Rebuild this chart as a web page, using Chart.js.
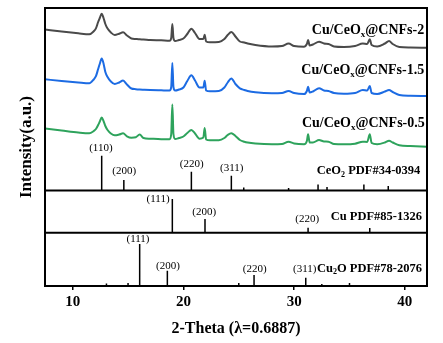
<!DOCTYPE html>
<html><head><meta charset="utf-8">
<script src="https://cdn.jsdelivr.net/npm/chart.js@4"></script>
<style>html,body{margin:0;padding:0;background:#fff}#wrap{width:443px;height:343px}</style>
</head><body><div id="wrap"><canvas id="c" width="443" height="343"></canvas></div>
<script>
// ---- data ----
const angles = [7.5, 9, 10.5, 11.5, 11.9, 12.1, 12.3, 12.45, 12.62, 12.8,
  12.95, 13.15, 13.45, 13.8, 14.2, 14.55, 14.9, 15.3, 15.7, 16.05,
  16.4, 17.0, 18.0, 18.75, 18.9, 19.0, 19.1, 19.25, 19.6, 20.0,
  20.35, 20.72, 21.05, 21.45, 21.8, 21.92, 22.05, 22.4, 23.2, 23.7,
  24.0, 24.33, 24.7, 25.1, 25.5, 25.8, 26.5, 28.0, 28.9, 29.5,
  30.0, 30.9, 31.15, 31.26, 31.4, 31.7, 32.25, 32.7, 33.1, 33.6,
  34.5, 35.5, 36.2, 36.6, 36.83, 37.0, 37.5, 38.2, 38.57, 38.9,
  39.5, 40.5, 42.0];
const cnfs2 = [256.5, 254.5, 252.7, 251.7, 254.7, 257.6, 264, 268, 272.3, 267.5,
  262, 257.4, 253.5, 251, 252.3, 253.7, 250.5, 247.5, 247, 246.7,
  246.5, 246, 245.7, 245.3, 248, 262, 248, 245, 246, 247.5,
  252, 257.3, 253, 247, 247, 251.3, 244.5, 243.7, 244, 247,
  251, 254, 249.5, 244.5, 243.5, 242.5, 241, 239.5, 240, 242.5,
  240, 239.3, 242, 246, 240.5, 241.5, 244.3, 242.5, 242, 239.5,
  239, 240, 242.5, 242, 246.7, 241, 239.5, 242.5, 245, 242,
  239, 238.5, 238.3];
const cnfs15 = [206.7, 205, 203.5, 202.7, 206.5, 209.8, 217, 222.3, 227.5, 221.8,
  214, 209, 204.5, 202, 203.5, 205.5, 201.5, 197.5, 196.8, 196.5,
  196.3, 196, 195.7, 195.5, 199, 223, 199, 195.5, 196.5, 198.5,
  205, 210.7, 205.5, 198.5, 198.5, 205.3, 195.5, 194.7, 195, 198.5,
  203.5, 207.5, 202, 197.7, 196, 195, 193.7, 192.7, 193, 195,
  193, 192, 195, 199.3, 193.5, 194.5, 197.7, 195.5, 195, 193,
  192.3, 193, 196, 195.5, 200, 193, 192, 194.5, 196, 194,
  191, 190.3, 190];
const cnfs05 = [157.5, 155.5, 153.5, 152.7, 155, 157, 161, 164.5, 168.5, 164.5,
  160, 156, 152.5, 150.7, 151.5, 152.7, 149.7, 148.3, 148.7, 151.5,
  148, 147.3, 146.8, 146.7, 152, 181.5, 152, 147, 148, 149.5,
  153, 156, 152.5, 147.3, 148.5, 158, 146.5, 145.7, 145.8, 148,
  151, 152.7, 150, 146, 144.3, 143.5, 142.5, 141.7, 142, 144.3,
  142.5, 141.7, 145, 151.7, 143.5, 143.5, 146, 144.5, 144.3, 142,
  141.7, 142.3, 144.3, 144, 151.7, 143, 141.7, 143.5, 145.3, 143.5,
  140.7, 140, 139.3];
const sampleNames = ['Cu/CeO_x@CNFs-2', 'Cu/CeO_x@CNFs-1.5', 'Cu/CeO_x@CNFs-0.5'];

// reference patterns (stick positions and heights), baselines of their panels
const ceo2Pos = [12.62, 14.62, 20.72, 24.33, 25.45, 29.5, 32.16, 32.97, 36.3, 38.5];
const ceo2Int = [34.8, 10.5, 18.8, 14.8, 3, 2.5, 6, 3.5, 6, 4.5];
const ceo2Hkl = ['(110)', '(200)', '(220)', '(311)'];
const cuPos = [19.0, 21.95, 31.26, 36.83];
const cuInt = [33.7, 13.7, 5, 4.7];
const cuHkl = ['(111)', '(200)', '(220)'];
const cu2oPos = [13.05, 16.05, 18.55, 26.38, 31.05, 32.5];
const cu2oInt = [2.5, 42, 15.3, 11, 8.3, 2];
const cu2oHkl = ['(111)', '(200)', '(220)', '(311)'];
const panelBase = [95.5, 53.3, 0];
const refNames = ['CeO_2 PDF#34-0394', 'Cu PDF#85-1326', 'Cu_2O PDF#78-2076'];

const xMajorTicks = [10, 20, 30, 40];
const xMinorTicks = [15, 25, 35];

// ---- chart ----
const SERIF = '"Liberation Serif", "Times New Roman", serif';
const colors = ['#4a4a4a', '#1c6be3', '#2ea35c'];
const seriesData = [cnfs2, cnfs15, cnfs05];

function sticks(pos, ints, base) {
  const out = [];
  pos.forEach((p, i) => { out.push({x: p, y: base}, {x: p, y: base + ints[i]}, {x: p, y: null}); });
  return out;
}
const datasets = [];
seriesData.forEach((arr, k) => datasets.push({
  label: sampleNames[k], data: angles.map((a, i) => ({x: a, y: arr[i]})),
  borderColor: colors[k], borderWidth: 2, pointRadius: 0, fill: false,
  cubicInterpolationMode: 'monotone'
}));
[[ceo2Pos, ceo2Int], [cuPos, cuInt], [cu2oPos, cu2oInt]].forEach(([p, v], k) => datasets.push({
  label: refNames[k], data: sticks(p, v, panelBase[k]), borderColor: '#000', borderWidth: 1.5,
  pointRadius: 0, fill: false, spanGaps: false, tension: 0
}));
[panelBase[0], panelBase[1]].forEach(b => datasets.push({
  label: 'divider', data: [{x: 7.5, y: b}, {x: 42, y: b}], borderColor: '#000', borderWidth: 2,
  pointRadius: 0, fill: false
}));

// annotation anchors (data coordinates)
const sampleLabelAnchors = [[41.75, 256], [41.75, 216], [41.8, 162.7]];
const refLabelAnchors = [[41.4, 115], [41.55, 69.3], [41.55, 17.7]];
const hklAnchors = [
  [[12.55, 137.7], [14.66, 115], [20.75, 121.7], [24.36, 117.7]],
  [[17.71, 87], [21.88, 74.3], [31.18, 66.7]],
  [[15.9, 46.7], [18.61, 20], [26.44, 16.7], [30.96, 16.7]]
];

function drawRich(ctx, str, xr, yc, size) {
  const parts = [];
  let i = 0, buf = '';
  while (i < str.length) {
    if (str[i] === '_') { if (buf) parts.push([buf, false]); buf = ''; parts.push([str[i + 1], true]); i += 2; }
    else { buf += str[i]; i++; }
  }
  if (buf) parts.push([buf, false]);
  const big = `bold ${size}px ${SERIF}`, small = `bold ${Math.round(size * 0.62)}px ${SERIF}`;
  let w = 0;
  parts.forEach(([t, s]) => { ctx.font = s ? small : big; w += ctx.measureText(t).width; });
  let x = xr - w;
  ctx.textAlign = 'left'; ctx.textBaseline = 'middle'; ctx.fillStyle = '#000';
  parts.forEach(([t, s]) => { ctx.font = s ? small : big; ctx.fillText(t, x, yc + (s ? size * 0.32 : 0)); x += ctx.measureText(t).width; });
}

const decor = {
  id: 'decor',
  afterDatasetsDraw(chart) {
    const {ctx, chartArea: a, scales: {x, y}} = chart;
    ctx.save();
    ctx.strokeStyle = '#000'; ctx.lineWidth = 2;
    ctx.strokeRect(a.left, a.top, a.right - a.left, a.bottom - a.top);
    ctx.lineWidth = 1.5;
    xMinorTicks.forEach(v => { const px = x.getPixelForValue(v); ctx.beginPath(); ctx.moveTo(px, a.bottom); ctx.lineTo(px, a.bottom - 3); ctx.stroke(); });
    sampleNames.forEach((n, k) => drawRich(ctx, n, x.getPixelForValue(sampleLabelAnchors[k][0]), y.getPixelForValue(sampleLabelAnchors[k][1]), 14));
    refNames.forEach((n, k) => drawRich(ctx, n, x.getPixelForValue(refLabelAnchors[k][0]), y.getPixelForValue(refLabelAnchors[k][1]), 12.5));
    ctx.font = `11px ${SERIF}`; ctx.textAlign = 'center'; ctx.textBaseline = 'middle'; ctx.fillStyle = '#000';
    [ceo2Hkl, cuHkl, cu2oHkl].forEach((list, k) => list.forEach((t, i) => {
      ctx.fillText(t, x.getPixelForValue(hklAnchors[k][i][0]), y.getPixelForValue(hklAnchors[k][i][1]));
    }));
    ctx.restore();
  }
};

new Chart(document.getElementById('c'), {
  type: 'line',
  data: {datasets},
  plugins: [decor],
  options: {
    responsive: false, animation: false, devicePixelRatio: 1,
    layout: {padding: {top: 8, right: 16, left: 0, bottom: 0}},
    plugins: {legend: {display: false}, tooltip: {enabled: false}},
    scales: {
      x: {
        type: 'linear', min: 7.5, max: 42,
        afterBuildTicks: s => { s.ticks = xMajorTicks.map(v => ({value: v})); },
        afterFit: s => { s.height = 57; },
        grid: {display: true, drawOnChartArea: false, drawTicks: true, tickLength: 4, color: '#000', lineWidth: 1.5},
        border: {display: false},
        ticks: {color: '#000', font: {family: SERIF, size: 15, weight: 'bold'}, padding: 3, maxRotation: 0, autoSkip: false},
        title: {display: true, text: '2-Theta (λ=0.6887)', color: '#000', font: {family: SERIF, size: 16, weight: 'bold'}, padding: {top: 0, bottom: 5}}
      },
      y: {
        type: 'linear', min: 0, max: 278,
        afterFit: s => { s.width = 45; },
        grid: {display: false}, border: {display: false},
        ticks: {display: false},
        title: {display: true, text: 'Intensity(a.u.)', color: '#000', font: {family: SERIF, size: 17, weight: 'bold'}, padding: {top: 16.5, bottom: 0}}
      }
    }
  }
});
</script></body></html>
